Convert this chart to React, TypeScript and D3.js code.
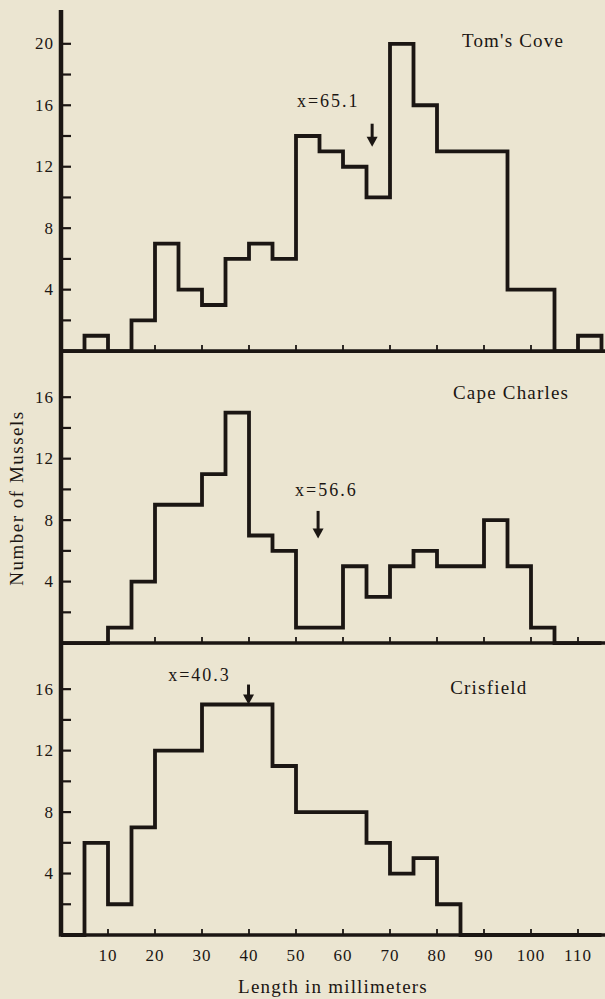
import React from "react";
import * as d3 from "d3";

// length classes (mm), 5 mm wide
const binStarts = [0, 5, 10, 15, 20, 25, 30, 35, 40, 45, 50, 55, 60, 65, 70, 75, 80, 85, 90, 95, 100, 105, 110];
const binWidth = 5;

// number of mussels per class
const tomsCove = [0, 1, 0, 2, 7, 4, 3, 6, 7, 6, 14, 13, 12, 10, 20, 16, 13, 13, 13, 4, 4, 0, 1];
const capeCharles = [0, 0, 1, 4, 9, 9, 11, 15, 7, 6, 1, 1, 5, 3, 5, 6, 5, 5, 8, 5, 1, 0, 0];
const crisfield = [0, 6, 2, 7, 12, 12, 15, 15, 15, 11, 8, 8, 8, 6, 4, 5, 2, 0, 0, 0, 0, 0, 0];

const sites = ["Tom's Cove", "Cape Charles", "Crisfield"];
const meanLabels = ["x=65.1", "x=56.6", "x=40.3"];
const meanArrowAt = [66.2, 54.7, 39.9];

const xTicks = [10, 20, 30, 40, 50, 60, 70, 80, 90, 100, 110];
const panelMax = [22.2, 19, 19];
const panelTickMax = [20, 16, 16];

const series = [tomsCove, capeCharles, crisfield];

// layout (data units)
const annot = [
  { textX: 50.2, textY: 15.9, top: 14.8, tip: 13.3 },
  { textX: 49.8, textY: 9.6, top: 8.6, tip: 6.8 },
  { textX: 22.8, textY: 16.5, top: 16.3, tip: 15.0 },
];
const siteLabel = [
  { x: 85.3, y: 19.8 },
  { x: 83.4, y: 15.9 },
  { x: 82.8, y: 15.7 },
];

const W = 605;
const H = 999;
const ink = "#1b1613";
const paper = "#ebe5d1";
const font = "'Liberation Serif', 'DejaVu Serif', serif";

const x = d3.scaleLinear().domain([0, 110]).range([61, 578]);
const yStack = d3.scaleLinear().domain([0, d3.sum(panelMax)]).range([935, 10]);
const offsets = panelMax.map((_, i) => d3.sum(panelMax.slice(i + 1)));

const App = () => {
  const line = d3.line<[number, number]>();

  return (
    <svg
      width={W}
      height={H}
      style={{ position: "absolute", left: 0, top: 0, background: paper }}
      fontFamily={font}
    >
      <rect width={W} height={H} fill={paper} />
      {series.map((vals, i) => {
        const y = (v: number) => yStack(offsets[i] + v);
        const base = y(0);
        const pts: [number, number][] = [[x(binStarts[0]), base]];
        binStarts.forEach((s, j) => {
          pts.push([x(s), y(vals[j])]);
          pts.push([x(s + binWidth), y(vals[j])]);
        });
        pts.push([x(binStarts[binStarts.length - 1] + binWidth), base]);
        const yTicks = d3.range(2, panelTickMax[i] + 1, 2);
        const a = annot[i];
        const ax = x(meanArrowAt[i]);
        const tipY = y(a.tip);
        return (
          <g key={sites[i]}>
            <path
              d={line(pts) || ""}
              fill="none"
              stroke={ink}
              strokeWidth={3.8}
              strokeLinejoin="miter"
            />
            <line x1={61} x2={W} y1={base} y2={base} stroke={ink} strokeWidth={3.6} />
            {xTicks.map((t) => (
              <line key={t} x1={x(t)} x2={x(t)} y1={base} y2={base - 6} stroke={ink} strokeWidth={1.8} />
            ))}
            {yTicks.map((t) => (
              <line key={t} x1={61} x2={71} y1={y(t)} y2={y(t)} stroke={ink} strokeWidth={2.2} />
            ))}
            {yTicks
              .filter((t) => t % 4 === 0)
              .map((t) => (
                <text
                  key={t}
                  x={54}
                  y={y(t)}
                  textAnchor="end"
                  dominantBaseline="central"
                  fontSize={17}
                  letterSpacing={1}
                  fill={ink}
                >
                  {t}
                </text>
              ))}
            <text x={x(siteLabel[i].x)} y={y(siteLabel[i].y)} fontSize={19} letterSpacing={1.2} fill={ink}>
              {sites[i]}
            </text>
            <text x={x(a.textX)} y={y(a.textY)} fontSize={18} letterSpacing={2} fill={ink}>
              {meanLabels[i]}
            </text>
            <line x1={ax} x2={ax} y1={y(a.top)} y2={tipY - 6} stroke={ink} strokeWidth={3} />
            <path d={`M${ax - 5.5},${tipY - 10} L${ax + 5.5},${tipY - 10} L${ax},${tipY} Z`} fill={ink} />
          </g>
        );
      })}
      <line x1={61} x2={61} y1={10} y2={yStack(0) + 1.8} stroke={ink} strokeWidth={4.5} />
      {xTicks.map((t) => (
        <text
          key={t}
          x={x(t)}
          y={955}
          textAnchor="middle"
          dominantBaseline="central"
          fontSize={17}
          letterSpacing={1}
          fill={ink}
        >
          {t}
        </text>
      ))}
      <text x={333} y={993} textAnchor="middle" fontSize={19} letterSpacing={1.2} fill={ink}>
        Length in millimeters
      </text>
      <text
        transform="translate(23,498) rotate(-90)"
        textAnchor="middle"
        fontSize={19}
        letterSpacing={1.5}
        fill={ink}
      >
        Number of Mussels
      </text>
    </svg>
  );
};

export default App;
